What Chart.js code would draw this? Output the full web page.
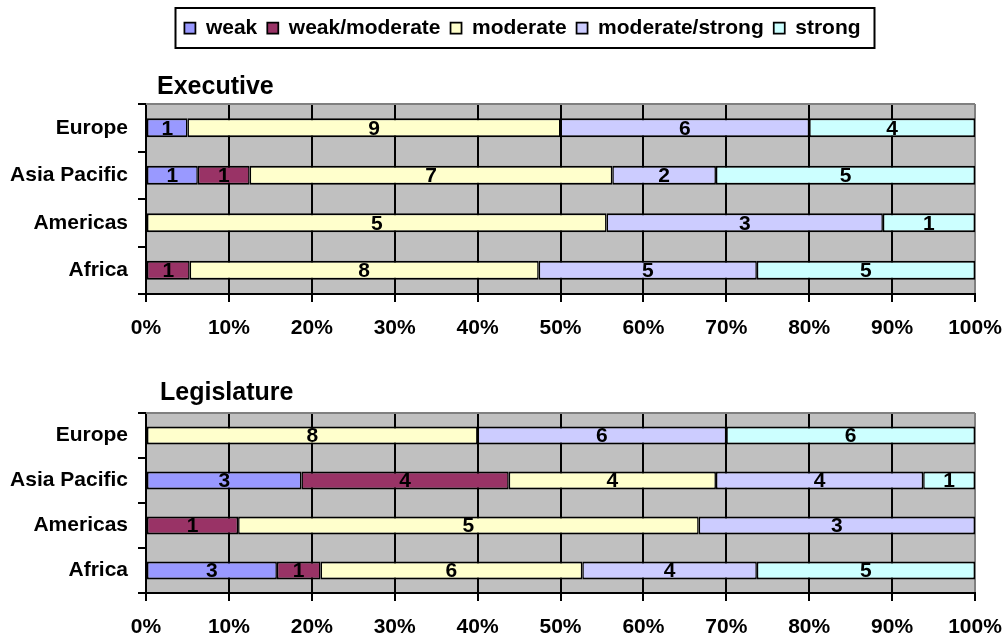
<!DOCTYPE html>
<html>
<head>
<meta charset="utf-8">
<title>Executive and Legislature</title>
<script src="https://cdn.jsdelivr.net/npm/chart.js@4.4.1/dist/chart.umd.min.js"></script>
<style>
  html, body { margin: 0; padding: 0; background: #ffffff; }
  #wrap { position: relative; width: 1004px; height: 633px; overflow: hidden; }
  #execChart { position: absolute; left: 0; top: 0; }
  #legChart { position: absolute; left: 0; top: 345px; }
</style>
</head>
<body>
<div id="wrap">
  <canvas id="execChart" width="1004" height="344"></canvas>
  <canvas id="legChart" width="1004" height="288"></canvas>
</div>
<script>
// Regions (top to bottom) and strength levels
const regions = ['Europe', 'Asia Pacific', 'Americas', 'Africa'];
const levels = ['weak', 'weak/moderate', 'moderate', 'moderate/strong', 'strong'];
const levelColors = ['#9999FF', '#993366', '#FFFFCC', '#CCCCFF', '#CCFFFF'];
const percentTicks = ['0%', '10%', '20%', '30%', '40%', '50%', '60%', '70%', '80%', '90%', '100%'];

// Executive: number of countries per level
const execWeak           = [1, 1, 0, 0];
const execWeakModerate   = [0, 1, 0, 1];
const execModerate       = [9, 7, 5, 8];
const execModerateStrong = [6, 2, 3, 5];
const execStrong         = [4, 5, 1, 5];

// Legislature: number of countries per level
const legWeak           = [0, 3, 0, 3];
const legWeakModerate   = [0, 4, 1, 1];
const legModerate       = [8, 4, 5, 6];
const legModerateStrong = [6, 4, 3, 4];
const legStrong         = [6, 1, 0, 5];

const FONT = '"Liberation Sans", Arial, sans-serif';

// Turn counts into shares of each region's total (100% stacked bars)
function buildDatasets(series) {
  const totals = regions.map((_, i) => series.reduce((s, arr) => s + arr[i], 0));
  return series.map((counts, k) => ({
    label: levels[k],
    counts: counts,
    data: counts.map((c, i) => c === 0 ? null : c / totals[i] * 100),
    backgroundColor: levelColors[k],
    borderColor: '#000000',
    borderWidth: { top: 2, bottom: 2, left: 1.5, right: 1.5 },
    borderSkipped: false,
    inflateAmount: 0,
    barPercentage: 0.4,
    categoryPercentage: 1.0
  }));
}

// Gray plot area with a darker frame along the top
const plotArea = {
  id: 'plotArea',
  beforeDraw(chart) {
    const { ctx, chartArea: a } = chart;
    ctx.save();
    ctx.fillStyle = '#C0C0C0';
    ctx.fillRect(a.left, a.top, a.right - a.left, a.bottom - a.top);
    ctx.restore();
  },
  beforeDatasetsDraw(chart) {
    const { ctx, chartArea: a } = chart;
    ctx.save();
    ctx.strokeStyle = '#808080';
    ctx.lineWidth = 2;
    ctx.beginPath();
    ctx.moveTo(a.left, a.top);
    ctx.lineTo(a.right, a.top);
    ctx.stroke();
    ctx.restore();
  }
};

// Country counts written in the middle of each segment
const segmentCounts = {
  id: 'segmentCounts',
  afterDatasetsDraw(chart) {
    const { ctx } = chart;
    ctx.save();
    ctx.font = 'bold 21px ' + FONT;
    ctx.fillStyle = '#000000';
    ctx.textAlign = 'center';
    ctx.textBaseline = 'middle';
    chart.data.datasets.forEach((ds, di) => {
      const meta = chart.getDatasetMeta(di);
      meta.data.forEach((bar, i) => {
        if (ds.data[i] === null) return;
        const p = bar.getCenterPoint();
        ctx.fillText(String(ds.counts[i]), p.x, p.y + 1);
      });
    });
    ctx.restore();
  }
};

// Frame around the legend row
const legendFrame = {
  id: 'legendFrame',
  afterDraw(chart) {
    const lg = chart.legend;
    if (!lg || !lg.options.display || !lg.legendHitBoxes.length) return;
    const hb = lg.legendHitBoxes;
    const left = Math.min(...hb.map(h => h.left)) - 9;
    const right = Math.max(...hb.map(h => h.left + h.width)) + 14;
    const mid = hb[0].top + hb[0].height / 2;
    const { ctx } = chart;
    ctx.save();
    ctx.strokeStyle = '#000000';
    ctx.lineWidth = 2;
    ctx.strokeRect(Math.round(left) + 0.5, Math.round(mid - 20), Math.round(right - left), 40);
    ctx.restore();
  }
};

// Horizontal nudges for the title and the legend row
const boxInset = {
  id: 'boxInset',
  afterLayout(chart, args, opts) {
    const t = chart.titleBlock;
    if (t) { t.left += opts.titleDx; t.right += opts.titleDx; }
    const lg = chart.legend;
    if (lg && lg.options.display) { lg.left += opts.legendDx; lg.right += opts.legendDx; }
  }
};

function makeOptions(titleText, withLegend, titlePad, layoutTop, xAxisHeight, titleDx) {
  return {
    indexAxis: 'y',
    responsive: false,
    animation: false,
    devicePixelRatio: 1,
    layout: { padding: { top: layoutTop, right: 29, bottom: 0, left: 0 } },
    plugins: {
      legend: {
        display: withLegend,
        position: 'top',
        weight: 3000,
        labels: {
          font: { family: FONT, size: 21, weight: 'bold' },
          color: '#000000',
          boxWidth: 11,
          boxHeight: 11,
          padding: 10
        }
      },
      title: {
        display: true,
        text: titleText,
        align: 'start',
        fullSize: false,
        color: '#000000',
        font: { family: FONT, size: 25, weight: 'bold', lineHeight: 1.2 },
        padding: titlePad
      },
      tooltip: { enabled: false },
      boxInset: { titleDx: titleDx, legendDx: 35 }
    },
    scales: {
      x: {
        type: 'linear',
        stacked: true,
        min: 0,
        max: 100,
        position: 'bottom',
        ticks: {
          stepSize: 10,
          autoSkip: false,
          maxRotation: 0,
          padding: 14,
          color: '#000000',
          font: { family: FONT, size: 21, weight: 'bold' },
          callback: (v, i) => percentTicks[i]
        },
        grid: {
          color: c => (c.tick && c.tick.value === 100) ? '#808080' : '#000000',
          lineWidth: 2,
          tickColor: '#000000',
          tickLength: 8,
          drawTicks: true
        },
        border: { display: true, color: '#000000', width: 2 },
        afterFit: s => { s.height = xAxisHeight; s.paddingLeft = 0; s.paddingRight = 0; }
      },
      y: {
        type: 'category',
        stacked: true,
        ticks: {
          padding: 10,
          color: '#000000',
          font: { family: FONT, size: 21, weight: 'bold' }
        },
        grid: {
          offset: true,
          drawOnChartArea: false,
          drawTicks: true,
          tickLength: 8,
          tickColor: '#000000',
          lineWidth: 2
        },
        border: { display: true, color: '#000000', width: 2 },
        afterFit: s => { s.width = 146; }
      }
    }
  };
}

new Chart(document.getElementById('execChart'), {
  type: 'bar',
  data: {
    labels: regions,
    datasets: buildDatasets([execWeak, execWeakModerate, execModerate, execModerateStrong, execStrong])
  },
  options: makeOptions('Executive', true, { top: 23.5, bottom: 2 }, 7.5, 50, 11),
  plugins: [plotArea, segmentCounts, legendFrame, boxInset]
});

new Chart(document.getElementById('legChart'), {
  type: 'bar',
  data: {
    labels: regions,
    datasets: buildDatasets([legWeak, legWeakModerate, legModerate, legModerateStrong, legStrong])
  },
  options: makeOptions('Legislature', false, { top: 33, bottom: 5 }, 0, 40, 14),
  plugins: [plotArea, segmentCounts, boxInset]
});
</script>
</body>
</html>
